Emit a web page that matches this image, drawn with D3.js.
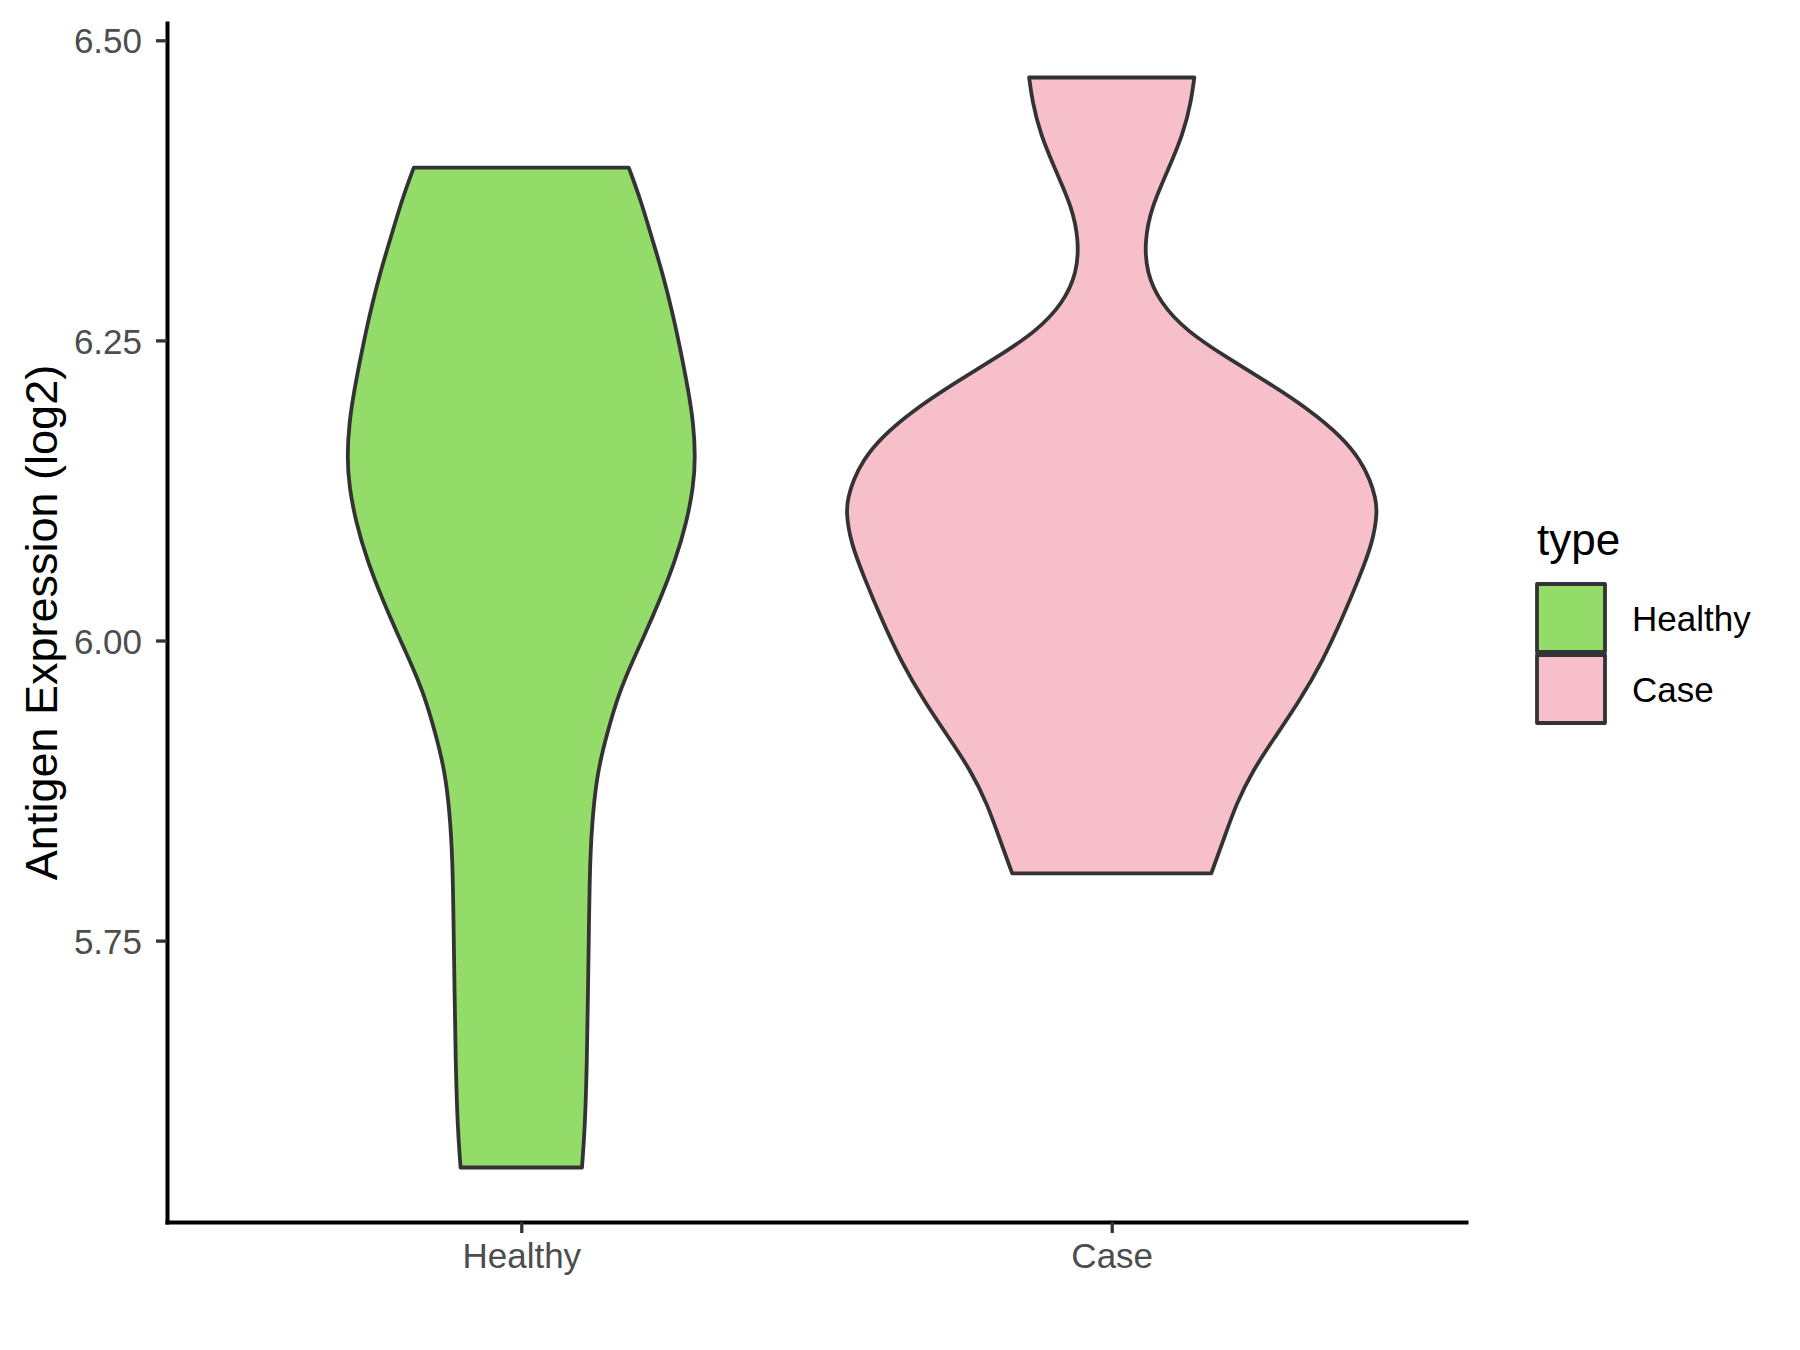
<!DOCTYPE html>
<html>
<head>
<meta charset="utf-8">
<script src="https://cdn.jsdelivr.net/npm/d3@7"></script>
<style>
  html, body { margin: 0; padding: 0; background: #ffffff; }
  svg { display: block; font-family: "Liberation Sans", Arial, sans-serif; }
</style>
</head>
<body>
<svg id="chart" width="1800" height="1350"></svg>
<script>
// Groups and their fill colours
const categories = ["Healthy", "Case"];
const fillColors = ["#94DC6A", "#F7BFCA"];

// Kernel density profile of each group: expression value (log2) and density
const healthyValues = [6.394, 6.367, 6.336, 6.306, 6.273, 6.242, 6.208, 6.181, 6.153, 6.128,
                       6.098, 6.067, 6.033, 6.003, 5.983, 5.956, 5.922, 5.892, 5.858, 5.817,
                       5.761, 5.706, 5.650, 5.594, 5.561];
const healthyDensity = [1.08, 1.20, 1.31, 1.42, 1.52, 1.60, 1.68, 1.73, 1.75, 1.73,
                        1.66, 1.55, 1.39, 1.23, 1.12, 0.98, 0.86, 0.77, 0.72, 0.69,
                        0.68, 0.67, 0.66, 0.64, 0.61];

const caseValues = [6.469, 6.450, 6.422, 6.389, 6.361, 6.333, 6.306, 6.281, 6.258, 6.236,
                    6.214, 6.192, 6.169, 6.150, 6.133, 6.119, 6.106, 6.081, 6.053, 6.019,
                    5.983, 5.950, 5.917, 5.892, 5.864, 5.833, 5.806];
const caseDensity = [0.83, 0.80, 0.72, 0.55, 0.40, 0.33, 0.35, 0.49, 0.75, 1.15,
                     1.59, 1.99, 2.32, 2.50, 2.60, 2.65, 2.67, 2.62, 2.49, 2.32,
                     2.12, 1.89, 1.62, 1.42, 1.25, 1.12, 1.00];

// Axis tick values
const yTicks = [5.75, 6.00, 6.25, 6.50];

const groups = [
  { name: categories[0], values: healthyValues, density: healthyDensity, fill: fillColors[0] },
  { name: categories[1], values: caseValues, density: caseDensity, fill: fillColors[1] }
];

const svg = d3.select("#chart");
svg.append("rect").attr("width", 1800).attr("height", 1350).attr("fill", "#ffffff");

// Panel geometry
const panel = { left: 167, right: 1466, top: 23, bottom: 1222 };

// y domain: data range expanded by 5% on each side
const allVals = healthyValues.concat(caseValues);
const vMin = d3.min(allVals), vMax = d3.max(allVals);
const pad = (vMax - vMin) * 0.05;
const y = d3.scaleLinear().domain([vMin - pad, vMax + pad]).range([panel.bottom, panel.top]);

const x = d3.scalePoint().domain(categories).range([panel.left, panel.right]).padding(0.6);

const maxDensity = d3.max(healthyDensity.concat(caseDensity));
const w = d3.scaleLinear().domain([0, maxDensity]).range([0, x.step() * 0.45]);

const ink = "#333333";

// Violins: mirrored density outline, smoothed with a B-spline
groups.forEach(g => {
  const pts = g.values.map((v, i) => ({ v: v, d: g.density[i] }));
  const cx = x(g.name);
  const area = d3.area()
    .y(p => y(p.v))
    .x0(p => cx - w(p.d))
    .x1(p => cx + w(p.d))
    .curve(d3.curveBasis);
  svg.append("path")
    .attr("d", area(pts))
    .attr("fill", g.fill)
    .attr("stroke", ink)
    .attr("stroke-width", 3.8)
    .attr("stroke-linejoin", "round");
});

// Y axis
const yAxis = svg.append("g")
  .attr("transform", `translate(${panel.left},0)`)
  .call(d3.axisLeft(y).tickValues(yTicks).tickFormat(d3.format(".2f")).tickSize(11).tickSizeOuter(0).tickPadding(14));

// X axis
const xAxis = svg.append("g")
  .attr("transform", `translate(0,${panel.bottom})`)
  .call(d3.axisBottom(x).tickSize(11).tickSizeOuter(0).tickPadding(10));

[yAxis, xAxis].forEach(ax => {
  ax.select(".domain").attr("stroke", "#000000").attr("stroke-width", 4).attr("stroke-linecap", "square");
  ax.selectAll(".tick line").attr("stroke", ink).attr("stroke-width", 3.3);
  ax.selectAll(".tick text")
    .attr("fill", "#4D4D4D")
    .style("font-size", "35px")
    .style("font-family", "'Liberation Sans', Arial, sans-serif");
});
yAxis.selectAll(".tick text").attr("dy", "0.36em");
xAxis.selectAll(".tick text").attr("dy", "0.72em");

// Y axis title
svg.append("text")
  .attr("transform", `translate(57,${(panel.top + panel.bottom) / 2}) rotate(-90)`)
  .attr("text-anchor", "middle")
  .attr("fill", "#000000")
  .style("font-size", "45px")
  .text("Antigen Expression (log2)");

// Legend
const legend = svg.append("g").attr("transform", "translate(1537,0)");
legend.append("text")
  .attr("x", 0).attr("y", 555)
  .attr("fill", "#000000")
  .style("font-size", "44px")
  .text("type");

groups.forEach((g, i) => {
  const ky = 584 + i * 71;
  legend.append("rect")
    .attr("x", 0).attr("y", ky)
    .attr("width", 68).attr("height", 68)
    .attr("fill", g.fill)
    .attr("stroke", ink)
    .attr("stroke-width", 3.8)
    .attr("stroke-linejoin", "round");
  legend.append("text")
    .attr("x", 95).attr("y", ky + 34)
    .attr("dy", "0.36em")
    .attr("fill", "#000000")
    .style("font-size", "35px")
    .text(g.name);
});
</script>
</body>
</html>
